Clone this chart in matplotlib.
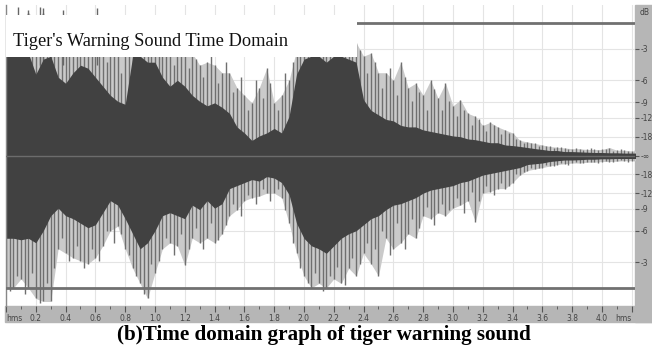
import numpy as np
import matplotlib.pyplot as plt
from matplotlib.patches import Rectangle
import matplotlib.transforms as mtransforms

# time grid of the envelope readings (s)
t = np.round(np.arange(0, 4.251, 0.05), 2)
t_mid = np.round(t[:-1] + 0.025, 3)

# dense (dark) body of the waveform, linear amplitude
body_top = [0.70, 0.70, 0.70, 0.68, 0.54, 0.64, 0.66, 0.52, 0.48, 0.55,
            0.60, 0.58, 0.52, 0.46, 0.40, 0.36, 0.34, 0.66, 0.66, 0.62,
            0.62, 0.52, 0.46, 0.50, 0.46, 0.40, 0.36, 0.33, 0.35, 0.32,
            0.28, 0.19, 0.15, 0.10, 0.13, 0.15, 0.18, 0.15, 0.26, 0.54,
            0.64, 0.66, 0.66, 0.62, 0.66, 0.66, 0.64, 0.62, 0.37, 0.30,
            0.27, 0.24, 0.23, 0.20, 0.19, 0.19, 0.17, 0.16, 0.15, 0.14,
            0.13, 0.125, 0.11, 0.105, 0.095, 0.085, 0.085, 0.07, 0.066, 0.06,
            0.053, 0.046, 0.04, 0.033, 0.033, 0.026, 0.026, 0.024, 0.022, 0.02,
            0.02, 0.018, 0.018, 0.016, 0.016, 0.016]
body_bot = [-0.55, -0.55, -0.56, -0.55, -0.58, -0.50, -0.40, -0.35, -0.40, -0.42,
            -0.45, -0.48, -0.46, -0.38, -0.30, -0.33, -0.42, -0.52, -0.62, -0.58,
            -0.50, -0.40, -0.38, -0.40, -0.42, -0.33, -0.36, -0.30, -0.35, -0.32,
            -0.22, -0.20, -0.18, -0.16, -0.17, -0.14, -0.15, -0.18, -0.26, -0.45,
            -0.55, -0.60, -0.62, -0.65, -0.60, -0.55, -0.52, -0.50, -0.46, -0.42,
            -0.40, -0.36, -0.33, -0.32, -0.30, -0.28, -0.25, -0.23, -0.22, -0.21,
            -0.20, -0.18, -0.17, -0.15, -0.13, -0.12, -0.11, -0.10, -0.09, -0.08,
            -0.06, -0.055, -0.05, -0.04, -0.035, -0.03, -0.03, -0.028, -0.025, -0.025,
            -0.022, -0.022, -0.02, -0.02, -0.02, -0.02]

# outer peaks (grey spikes) on the same grid
peak_top = [0.85, 0.85, 0.90, 0.95, 0.90, 0.95, 0.80, 0.80, 0.85, 0.75,
            0.75, 0.80, 0.90, 0.70, 0.70, 0.66, 0.66, 0.80, 0.80, 0.75,
            0.75, 0.70, 0.70, 0.70, 0.68, 0.68, 0.60, 0.62, 0.60, 0.55,
            0.55, 0.45, 0.40, 0.35, 0.45, 0.58, 0.35, 0.40, 0.50, 0.70,
            0.80, 0.80, 0.80, 0.80, 0.85, 0.80, 0.80, 0.75, 0.66, 0.68,
            0.55, 0.55, 0.50, 0.62, 0.45, 0.48, 0.40, 0.50, 0.38, 0.48,
            0.33, 0.37, 0.28, 0.26, 0.20, 0.22, 0.19, 0.17, 0.15, 0.10,
            0.09, 0.08, 0.07, 0.06, 0.055, 0.05, 0.045, 0.045, 0.04, 0.04,
            0.04, 0.053, 0.035, 0.035, 0.03, 0.03]
peak_bot = [-0.88, -0.88, -0.82, -0.88, -0.95, -0.97, -0.97, -0.62, -0.65, -0.68,
            -0.70, -0.72, -0.68, -0.60, -0.50, -0.47, -0.62, -0.75, -0.85, -0.95,
            -0.78, -0.62, -0.58, -0.60, -0.73, -0.55, -0.58, -0.55, -0.58, -0.52,
            -0.40, -0.36, -0.30, -0.28, -0.27, -0.25, -0.25, -0.28, -0.45, -0.65,
            -0.80, -0.88, -0.85, -0.88, -0.82, -0.85, -0.75, -0.80, -0.65, -0.72,
            -0.80, -0.55, -0.62, -0.58, -0.52, -0.55, -0.40, -0.42, -0.38, -0.40,
            -0.35, -0.33, -0.30, -0.44, -0.25, -0.24, -0.22, -0.22, -0.18, -0.13,
            -0.10, -0.09, -0.08, -0.07, -0.06, -0.055, -0.05, -0.05, -0.045, -0.045,
            -0.04, -0.04, -0.038, -0.035, -0.035, -0.035]

# spikes read between the grid points
mid_top = [0.80, 0.92, 0.85, 0.93, 0.88, 0.85, 0.72, 0.90, 0.70, 0.82,
           0.70, 0.86, 0.75, 0.62, 0.74, 0.55, 0.78, 0.85, 0.78, 0.80,
           0.66, 0.76, 0.60, 0.72, 0.58, 0.64, 0.52, 0.66, 0.48, 0.62,
           0.42, 0.52, 0.30, 0.50, 0.38, 0.48, 0.30, 0.55, 0.62, 0.78,
           0.85, 0.76, 0.88, 0.78, 0.86, 0.74, 0.82, 0.70, 0.55, 0.62,
           0.45, 0.58, 0.40, 0.52, 0.36, 0.42, 0.30, 0.44, 0.30, 0.36,
           0.26, 0.30, 0.20, 0.24, 0.16, 0.20, 0.14, 0.15, 0.11, 0.08,
           0.085, 0.06, 0.065, 0.05, 0.058, 0.045, 0.05, 0.038, 0.048, 0.035,
           0.045, 0.03, 0.042, 0.03, 0.035]
mid_bot = [-0.90, -0.80, -0.92, -0.78, -0.98, -0.85, -0.75, -0.55, -0.70, -0.60,
           -0.75, -0.62, -0.70, -0.50, -0.58, -0.52, -0.66, -0.80, -0.92, -0.72,
           -0.70, -0.55, -0.66, -0.52, -0.62, -0.48, -0.62, -0.45, -0.56, -0.46,
           -0.32, -0.40, -0.26, -0.32, -0.22, -0.30, -0.22, -0.36, -0.58, -0.75,
           -0.85, -0.78, -0.90, -0.80, -0.74, -0.86, -0.68, -0.72, -0.58, -0.62,
           -0.50, -0.66, -0.45, -0.62, -0.42, -0.48, -0.34, -0.46, -0.32, -0.36,
           -0.28, -0.38, -0.24, -0.30, -0.20, -0.26, -0.18, -0.20, -0.12, -0.11,
           -0.08, -0.085, -0.065, -0.07, -0.05, -0.06, -0.045, -0.052, -0.04, -0.048,
           -0.036, -0.042, -0.032, -0.04, -0.035]

# a few peaks that poke out above the title box
tall_t = [0.08, 0.15, 0.23, 0.25, 0.38, 0.61]
tall_amp = [0.99, 0.97, 0.99, 0.98, 0.97, 0.98]

db_labels = ['-3', '-6', '-9', '-12', '-18', '-\u221e', '-18', '-12', '-9', '-6', '-3']
db_values = [-3, -6, -9, -12, -18, None, -18, -12, -9, -6, -3]
db_sign = [1, 1, 1, 1, 1, 0, -1, -1, -1, -1, -1]
db_amp = [0.0 if v is None else s * 10 ** (v / 20) for v, s in zip(db_values, db_sign)]

time_ticks = np.round(np.arange(0, 4.21, 0.2), 1)
time_labels = ['hms'] + ['%.1f' % v for v in time_ticks[1:-1]] + ['hms']

clip_level = 0.88
wave_dark = '#414141'
spike_grey = '#6f6f6f'
fill_grey = '#cacaca'
panel_grey = '#b6b6b6'

fig = plt.figure(figsize=(6.52, 3.5), dpi=100)
ax = fig.add_axes([6 / 652, 44 / 350, 629 / 652, 301 / 350])

# grey rulers of the editor screenshot
fig.patches.append(Rectangle((5 / 652, 28 / 350), 1, 16 / 350, transform=fig.transFigure,
                             color=panel_grey, zorder=-1))
fig.patches.append(Rectangle((635 / 652, 28 / 350), 1, 317 / 350, transform=fig.transFigure,
                             color=panel_grey, zorder=-1))

ax.set_xlim(0, 4.222)
ax.set_ylim(-1, 1)
ax.patch.set_alpha(0)

for x in time_ticks:
    ax.axvline(x, color='#e4e4e4', lw=0.8, zorder=0)
for a in db_amp:
    ax.axhline(a, color='#e4e4e4', lw=0.8, zorder=0)

ax.fill_between(t, peak_bot, peak_top, color=fill_grey, lw=0, zorder=1)
ax.vlines(t, peak_bot, peak_top, color=spike_grey, lw=1.0, zorder=1.5)
ax.vlines(t_mid, mid_bot, mid_top, color=spike_grey, lw=1.0, zorder=1.5)
ax.vlines(tall_t, 0.6, tall_amp, color='#666666', lw=1.0, zorder=1.5)
ax.fill_between(t, body_bot, body_top, color=wave_dark, lw=0, zorder=2)
ax.axhline(0, color='#6c6c6c', lw=1.0, zorder=3)

ax.axhline(clip_level, color='#707070', lw=2.0, zorder=3)
ax.axhline(-clip_level, color='#707070', lw=2.0, zorder=3)

# title box over the waveform
ax.add_patch(Rectangle((0, 0.656), 2.356, 0.278, facecolor='white', edgecolor='none', zorder=4))
ax.text(0.047, 0.725, "Tiger's Warning Sound Time Domain", family='Liberation Serif',
        fontsize=13.2, color='#111111', zorder=5)

for side in ['top', 'bottom', 'right']:
    ax.spines[side].set_visible(False)
ax.spines['left'].set_color('#888888')
ax.spines['left'].set_linewidth(1.0)

ax.set_xticks(time_ticks)
ax.set_xticklabels(time_labels)
ax.set_xticks(np.round(np.arange(0.1, 4.2, 0.2), 1), minor=True)
ax.tick_params(axis='x', which='major', direction='out', length=4, width=0.8,
               color='#555555', labelsize=5.5, labelcolor='#444444', pad=1.5)
ax.tick_params(axis='x', which='minor', direction='out', length=2, width=0.6, color='#555555')
xl = ax.get_xticklabels()
xl[0].set_ha('left')
xl[-1].set_ha('right')

ax.yaxis.tick_right()
ax.set_yticks(db_amp)
ax.set_yticklabels(db_labels)
ax.tick_params(axis='y', direction='out', length=3, width=0.8, color='#555555',
               labelsize=5.5, labelcolor='#444444', pad=1)
trans = mtransforms.blended_transform_factory(ax.transAxes, ax.transData)
ax.text(1.008, 0.95, 'dB', transform=trans, fontsize=5.5, color='#444444', va='center')

fig.text(0.496, 15 / 350, '(b)Time domain graph of tiger warning sound', family='Liberation Serif',
         fontweight='bold', fontsize=15.2, ha='center', va='center')

fig.savefig('out.png', dpi=100)
